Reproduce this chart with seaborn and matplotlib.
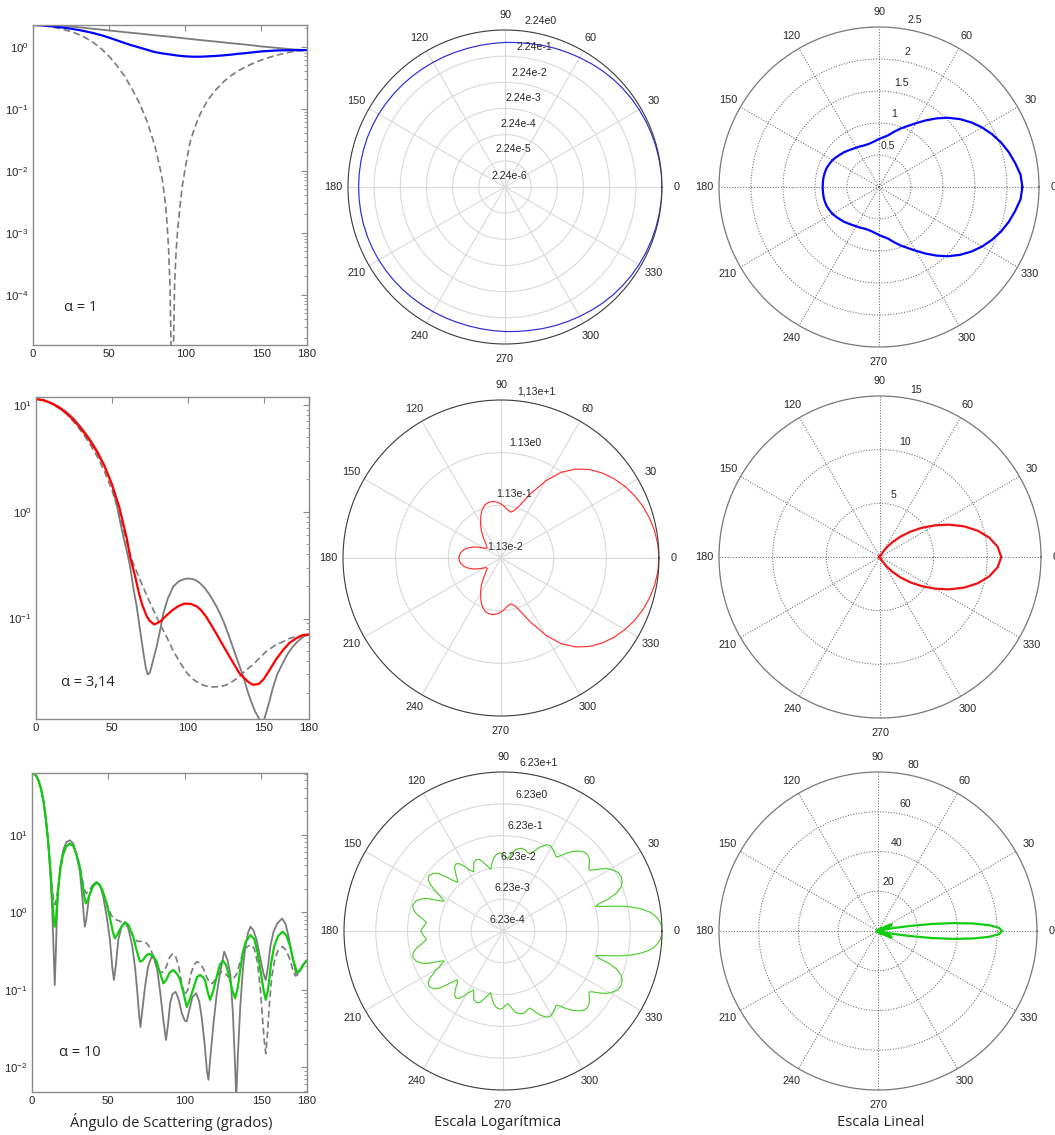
import numpy as np
import matplotlib
matplotlib.use("Agg")
import matplotlib.pyplot as plt
import seaborn as sns

# ---------------- data: scattered intensity vs scattering angle (degrees) ----------------
# alpha = 1
a1_ang = [0, 10, 20, 30, 40, 50, 60, 70, 80, 90, 100, 110, 120, 130, 140, 150, 160, 170, 180]
a1_perp = [2.24, 2.21, 2.17, 2.06, 1.94, 1.83, 1.72, 1.63, 1.53, 1.45, 1.36, 1.28, 1.21,
           1.14, 1.08, 1.01, 0.96, 0.91, 0.88]
a1_mean_ang = [0, 5, 10, 15, 20, 25, 30, 35, 40, 45, 50, 55, 60, 65, 70, 75, 80, 85, 90, 95,
               100, 105, 110, 115, 120, 125, 130, 135, 140, 145, 150, 155, 160, 165, 170,
               175, 180]
a1_mean = [2.24, 2.22, 2.16, 2.10, 2.03, 1.95, 1.86, 1.76, 1.65, 1.53, 1.40, 1.27, 1.15,
           1.05, 0.97, 0.89, 0.82, 0.78, 0.75, 0.72, 0.70, 0.69, 0.69, 0.70, 0.71, 0.725,
           0.745, 0.77, 0.79, 0.815, 0.84, 0.855, 0.87, 0.877, 0.88, 0.88, 0.88]
a1_par_ang = [0, 5, 10, 15, 20, 25, 30, 35, 40, 45, 50, 55, 60, 65, 70, 75, 80, 83, 85, 87,
              88, 89, 90, 91.5, 93, 94, 95, 96.5, 98, 100, 103, 106, 110, 115, 120, 125,
              130, 135, 140, 145, 150, 155, 160, 165, 170, 175, 180]
a1_par = [2.24, 2.2, 2.12, 2.02, 1.9, 1.75, 1.58, 1.37, 1.15, 0.92, 0.70, 0.50, 0.34, 0.21,
          0.122, 0.062, 0.0255, 0.0125, 0.0071, 0.0029, 1.5e-3, 6e-4, 1.4e-4, 1e-6, 1.4e-4,
          5e-4, 1.1e-3, 2.6e-3, 5.5e-3, 0.011, 0.0276, 0.048, 0.084, 0.14, 0.2, 0.27, 0.34,
          0.41, 0.48, 0.545, 0.61, 0.67, 0.73, 0.78, 0.83, 0.86, 0.88]

# alpha = 3,14
a2_mean_ang = [0, 5, 10, 15, 20, 25, 30, 35, 40, 45, 50, 55, 60, 62, 65, 68, 70, 73, 75, 78,
               82, 86, 90, 94, 98, 102, 106, 109, 112, 116, 121, 125, 130, 134, 137, 140,
               143, 147, 150, 154, 158, 163, 167, 172, 176, 180]
a2_mean = [11.3, 11.0, 10.35, 9.44, 8.34, 7.13, 5.90, 4.73, 3.66, 2.68, 1.81, 1.09, 0.55,
           0.38, 0.26, 0.17, 0.135, 0.105, 0.095, 0.088, 0.094, 0.107, 0.12, 0.131, 0.138,
           0.137, 0.13, 0.119, 0.105, 0.085, 0.064, 0.051, 0.0386, 0.031, 0.028, 0.0255,
           0.024, 0.0245, 0.027, 0.033, 0.041, 0.051, 0.059, 0.066, 0.07, 0.071]
a2_perp_ang = [0, 5, 10, 15, 20, 25, 30, 35, 40, 45, 50, 53, 55.5, 58, 60, 62, 64, 66.4,
               68.5, 70.8, 72.5, 73.7, 75, 76.5, 78, 79.6, 82, 84, 87, 90.6, 94, 97, 100,
               102.6, 105, 108, 111, 114.7, 119, 123.5, 127, 130, 133, 136.6, 139.5, 142,
               144.5, 146.5, 148.5, 150.5, 152, 154, 156, 159, 163, 166, 169.5, 173, 176.5,
               180]
a2_perp = [11.3, 11.05, 10.4, 9.6, 8.6, 7.4, 6.1, 4.9, 3.8, 2.75, 1.8, 1.2, 0.8, 0.55, 0.42,
           0.31, 0.2, 0.13, 0.08, 0.048, 0.034, 0.030, 0.031, 0.037, 0.045, 0.055, 0.08,
           0.113, 0.155, 0.2, 0.222, 0.232, 0.237, 0.235, 0.23, 0.215, 0.195, 0.165, 0.13,
           0.095, 0.07, 0.053, 0.04, 0.029, 0.021, 0.0165, 0.0135, 0.012, 0.0105, 0.0115,
           0.0135, 0.017, 0.022, 0.03, 0.039, 0.047, 0.055, 0.062, 0.068, 0.071]
a2_par_ang = [0, 5, 10, 15, 20, 25, 30, 35, 40, 45, 50, 55, 60, 64, 68.6, 73, 77.4, 81.5, 86,
              90.5, 95, 99.5, 103.7, 108, 112.5, 116, 119, 122, 125.6, 130, 134.4, 138.5,
              143, 147.5, 152, 157.5, 163, 167, 171.7, 176, 180]
a2_par = [11.3, 10.95, 10.25, 9.3, 8.2, 6.9, 5.6, 4.4, 3.35, 2.4, 1.6, 0.95, 0.5, 0.33,
          0.23, 0.165, 0.12, 0.09, 0.068, 0.05, 0.0386, 0.031, 0.027, 0.0245, 0.0233,
          0.0229, 0.023, 0.0232, 0.024, 0.026, 0.029, 0.033, 0.037, 0.043, 0.0495, 0.056,
          0.061, 0.065, 0.068, 0.07, 0.071]

# alpha = 10
a3_mean_ang = [0, 1.5, 3, 4.5, 6, 7.5, 9, 10.5, 12, 13.2, 14.2, 14.9, 15.7, 17, 18.5, 20.4,
               22.5, 24.7, 27, 29, 31.3, 33, 34.3, 35.2, 36.3, 38, 40, 42.2, 44, 46, 48.8,
               51, 53, 54.3, 56, 58.6, 61, 63, 66.3, 68.5, 70.7, 72.5, 75, 77, 79.5, 81.6,
               84, 86, 88, 90, 92.3, 95, 97, 99.5, 101.3, 103, 105.7, 108, 110, 112, 113.3,
               115.2, 116.6, 118.5, 121, 123, 125, 127, 129, 131.3, 133, 134.8, 136.3, 138,
               140, 143, 145.5, 147.5, 149.5, 151.5, 153, 154.5, 156.5, 158.5, 161, 164,
               166.5, 169, 171, 173.5, 175.5, 177.5, 180]
a3_mean = [62.3, 61, 56, 48, 38, 27, 16, 8.5, 3.6, 1.6, 0.85, 0.65, 0.8, 1.9, 3.6, 5.7, 7.1,
           7.65, 7.2, 5.6, 3.8, 2.3, 1.55, 1.3, 1.4, 1.75, 2.15, 2.4, 2.3, 1.95, 1.3, 0.85,
           0.55, 0.46, 0.52, 0.65, 0.73, 0.69, 0.48, 0.32, 0.23, 0.24, 0.28, 0.29, 0.27,
           0.23, 0.16, 0.121, 0.135, 0.165, 0.18, 0.16, 0.133, 0.085, 0.06, 0.072, 0.105,
           0.145, 0.155, 0.145, 0.133, 0.09, 0.074, 0.095, 0.15, 0.21, 0.236, 0.21, 0.15,
           0.095, 0.078, 0.11, 0.18, 0.3, 0.42, 0.506, 0.45, 0.31, 0.18, 0.1, 0.074, 0.1,
           0.22, 0.36, 0.49, 0.56, 0.5, 0.36, 0.24, 0.167, 0.18, 0.21, 0.24]
a3_perp_ang = [0, 1.5, 3, 4.5, 6, 7.5, 9, 10.5, 12, 13.2, 14.2, 14.9, 15.6, 16.3, 17, 18.5,
               20.4, 22.5, 24.7, 27, 29, 31.3, 33, 34, 34.6, 35.5, 37.4, 40, 42.2, 44.5,
               46.6, 49, 51, 52.5, 53.6, 54.8, 56.5, 58.6, 60.8, 63, 65.5, 67.5, 69, 70.2,
               71, 72, 74, 76, 78.3, 80, 82, 84, 86, 87.7, 89, 90.4, 92, 94, 96, 98, 100,
               101.3, 103, 105, 107.5, 109.5, 111, 113, 114.5, 115.5, 116.5, 118.8, 121,
               123, 125.8, 128, 129.8, 131.5, 132.8, 133.7, 134.8, 136.3, 138, 139.6,
               141.5, 143, 145, 147, 149.5, 151.6, 153, 154.5, 156, 158, 160.4, 163.7, 166,
               168, 170.5, 172.9, 175, 177.5, 180]
a3_perp = [62.3, 61.5, 57, 49, 39, 28, 17, 8.5, 3.2, 1.1, 0.3, 0.115, 0.3, 0.9, 1.74, 3.8,
           6.3, 8.0, 8.45, 7.7, 5.6, 3.4, 1.5, 0.85, 0.65, 0.8, 1.6, 2.25, 2.45, 2.2, 1.6,
           0.85, 0.44, 0.2, 0.133, 0.2, 0.44, 0.65, 0.75, 0.62, 0.38, 0.19, 0.09, 0.045,
           0.033, 0.05, 0.11, 0.2, 0.266, 0.25, 0.18, 0.09, 0.04, 0.0225, 0.035, 0.067,
           0.088, 0.094, 0.075, 0.05, 0.04, 0.039, 0.055, 0.08, 0.09, 0.07, 0.045, 0.02,
           0.009, 0.0069, 0.012, 0.037, 0.09, 0.16, 0.31, 0.24, 0.16, 0.05, 0.012, 0.004,
           0.015, 0.06, 0.18, 0.36, 0.55, 0.65, 0.58, 0.44, 0.25, 0.16, 0.133, 0.2, 0.36,
           0.55, 0.71, 0.83, 0.7, 0.48, 0.26, 0.16, 0.17, 0.21, 0.24]
a3_par_ang = [0, 1.5, 3, 4.5, 6, 7.5, 9, 10.5, 12, 13.2, 14.2, 15, 16, 17, 18.5, 20.4, 22.5,
              24.7, 27, 29, 31.3, 33, 34.5, 35.5, 37, 39.5, 42.2, 44.5, 47, 49.5, 52, 55,
              58.6, 62, 65, 67, 69, 72, 74, 76, 78, 80, 82, 84, 86, 88, 90, 92, 94, 96, 98,
              100, 102, 104, 106, 108, 110, 112, 114, 116, 118, 120, 122, 124, 126, 128,
              130, 132, 134, 136, 138, 140, 143, 145.5, 147.5, 149.5, 151, 152, 153, 154,
              155.5, 157, 159, 161, 164, 166.5, 169, 171, 172.5, 174.5, 177, 180]
a3_par = [62.3, 61, 56, 48, 38, 27, 16, 8.5, 3.8, 2.0, 1.4, 1.25, 1.5, 2.0, 3.4, 5.5, 7.0,
          7.5, 7.2, 5.8, 4.0, 2.6, 1.9, 1.75, 1.85, 2.2, 2.4, 2.2, 1.7, 1.2, 0.9, 0.8, 0.75,
          0.72, 0.55, 0.45, 0.42, 0.42, 0.41, 0.38, 0.32, 0.25, 0.19, 0.165, 0.17, 0.2,
          0.26, 0.29, 0.27, 0.2, 0.12, 0.085, 0.1, 0.16, 0.21, 0.23, 0.22, 0.19, 0.15, 0.125,
          0.12, 0.135, 0.16, 0.17, 0.165, 0.15, 0.14, 0.14, 0.16, 0.22, 0.3, 0.35, 0.38,
          0.34, 0.23, 0.1, 0.04, 0.022, 0.015, 0.025, 0.07, 0.15, 0.25, 0.32, 0.36, 0.32,
          0.24, 0.17, 0.15, 0.16, 0.2, 0.24]

# axis / ring labels
x_ticks = [0, 50, 100, 150, 180]
angle_ticks = list(range(0, 360, 30))
log_rings_1 = ["2.24e-6", "2.24e-5", "2.24e-4", "2.24e-3", "2.24e-2", "2.24e-1", "2.24e0"]
log_rings_2 = ["1.13e-2", "1.13e-1", "1.13e0", "1,13e+1"]
log_rings_3 = ["6.23e-4", "6.23e-3", "6.23e-2", "6.23e-1", "6.23e0", "6.23e+1"]
lin_rings_1 = [0.5, 1, 1.5, 2, 2.5]
lin_rings_2 = [5, 10, 15]
lin_rings_3 = [20, 40, 60, 80]
alpha_labels = ["\u03b1 = 1", "\u03b1 = 3,14", "\u03b1 = 10"]
col_titles = ["\u00c1ngulo de Scattering (grados)", "Escala Logar\u00edtmica", "Escala Lineal"]

# ---------------- figure ----------------
sns.set_style("white")
plt.rcParams["font.family"] = ["Liberation Sans", "DejaVu Sans"]
plt.rcParams["mathtext.default"] = "regular"

W, H = 1055, 1135
fig = plt.figure(figsize=(W / 100, H / 100), dpi=100)
fig.patch.set_facecolor("white")


def box_axes(x0, y0, x1, y1, **kw):
    return fig.add_axes([x0 / W, 1 - y1 / H, (x1 - x0) / W, (y1 - y0) / H], **kw)


def circle_axes(cx, cy, r):
    return box_axes(cx - r, cy - r, cx + r, cy + r, projection="polar")


GRAY = "#7b7b7b"


def angle_panel(box, perp, par, mean, color, ylim, label, label_xy):
    ax = box_axes(*box)
    ax.set_yscale("log")
    sns.lineplot(x=perp[0], y=perp[1], ax=ax, color=GRAY, lw=1.3, sort=False, estimator=None)
    sns.lineplot(x=par[0], y=par[1], ax=ax, color=GRAY, lw=1.2, sort=False, estimator=None,
                 linestyle=(0, (4, 2.2)))
    sns.lineplot(x=mean[0], y=mean[1], ax=ax, color=color, lw=1.6, sort=False, estimator=None)
    ax.set_xlim(0, 180)
    ax.set_ylim(*ylim)
    ax.set_xticks(x_ticks)
    ax.set_xticklabels([str(t) for t in x_ticks])
    ax.set_xlabel("")
    ax.set_ylabel("")
    for s in ax.spines.values():
        s.set_color("#8a8a8a")
        s.set_linewidth(1.0)
    ax.tick_params(which="both", direction="in", top=True, right=True, color="#8a8a8a",
                   labelsize=8.2, pad=3)
    ax.tick_params(which="major", length=4)
    ax.tick_params(which="minor", length=2)
    fig.text(label_xy[0] / W, 1 - label_xy[1] / H, label, family=["Open Sans", "DejaVu Sans"],
             fontsize=10.5, ha="left", va="center")
    return ax


def polar_frame(ax, grid_style):
    ax.set_theta_zero_location("E")
    ax.set_theta_direction(1)
    ax.set_thetagrids(angle_ticks, labels=[str(a) for a in angle_ticks], fontsize=7.8)
    ax.tick_params(axis="x", pad=0)
    ax.set_yticklabels([])
    ax.grid(True, **grid_style)


def mirrored(ang, vals):
    ang = np.asarray(ang, dtype=float)
    vals = np.asarray(vals, dtype=float)
    theta = np.deg2rad(np.concatenate([ang, 360.0 - ang[::-1]]))
    r = np.concatenate([vals, vals[::-1]])
    return theta, r


def ring_label(ax, r, text, off=(2.5, 12)):
    ax.annotate(text, xy=(np.deg2rad(78), r), xytext=off, textcoords="offset pixels",
                ha="center", va="center", fontsize=7.6)


def log_polar(center, R, ang, vals, rings, color):
    ax = circle_axes(center[0], center[1], R)
    vmin = float(rings[0].replace(",", "."))
    ndec = len(rings) - 1
    theta, v = mirrored(ang, vals)
    sns.lineplot(x=theta, y=np.log10(v / vmin), ax=ax, color=color, lw=0.85, sort=False,
                 estimator=None)
    ax.set_ylim(0, ndec)
    ax.set_yticks(list(range(1, ndec)))
    polar_frame(ax, dict(color="#d9d9d9", lw=0.8, ls="-"))
    ax.spines["polar"].set_color("#3a3a3a")
    ax.spines["polar"].set_linewidth(0.8)
    for k, t in enumerate(rings):
        ring_label(ax, k, t, off=(4, 11) if k == 0 else (2.5, 12))
    ax.set_xlabel("")
    ax.set_ylabel("")
    return ax


def lin_polar(center, R, ang, vals, rings, color):
    ax = circle_axes(center[0], center[1], R)
    theta, v = mirrored(ang, vals)
    sns.lineplot(x=theta, y=v, ax=ax, color=color, lw=1.6, sort=False, estimator=None)
    ax.set_ylim(0, rings[-1])
    ax.set_yticks(rings[:-1])
    polar_frame(ax, dict(color="#666666", lw=0.75, ls=(0, (1, 1.6))))
    ax.spines["polar"].set_color("#777777")
    ax.spines["polar"].set_linewidth(0.9)
    for rv in rings:
        ring_label(ax, rv, f"{rv:g}", off=(2.2, 10))
    ax.set_xlabel("")
    ax.set_ylabel("")
    return ax


# left column: intensity vs angle
angle_panel((33, 25, 307, 345), (a1_ang, a1_perp), (a1_par_ang, a1_par),
            (a1_mean_ang, a1_mean), "#0000ff", (1.55e-5, 2.24), alpha_labels[0], (64, 307))
angle_panel((36, 397, 309, 719), (a2_perp_ang, a2_perp), (a2_par_ang, a2_par),
            (a2_mean_ang, a2_mean), "#ff0000", (0.0115, 11.8), alpha_labels[1], (61, 682))
angle_panel((32, 773, 307, 1092), (a3_perp_ang, a3_perp), (a3_par_ang, a3_par),
            (a3_mean_ang, a3_mean), "#11cc11", (0.0048, 62.3), alpha_labels[2], (59, 1053))

# middle column: logarithmic polar diagrams
log_polar((505, 187), 157, a1_mean_ang, a1_mean, log_rings_1, "#2b2bd6")
log_polar((501, 558), 158, a2_mean_ang, a2_mean, log_rings_2, "#ff3030")
log_polar((503, 931), 159, a3_mean_ang, a3_mean, log_rings_3, "#4fcc2e")

# right column: linear polar diagrams
lin_polar((879, 187), 160, a1_mean_ang, a1_mean, lin_rings_1, "#0000ff")
lin_polar((880, 557), 161, a2_mean_ang, a2_mean, lin_rings_2, "#ee1111")
lin_polar((878, 931), 159, a3_mean_ang, a3_mean, lin_rings_3, "#11cc11")

# column captions
for txt, x in zip(col_titles, [171, 498, 881]):
    fig.text(x / W, 1 - 1122 / H, txt, family=["Open Sans", "DejaVu Sans"], fontsize=10.6,
             ha="center", va="center")

fig.savefig("out.png", dpi=100, facecolor="white")
